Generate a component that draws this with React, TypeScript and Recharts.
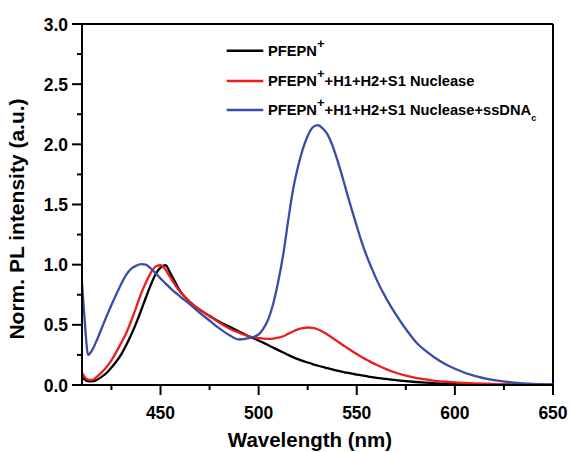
import React from 'react';
import { LineChart, Line, XAxis, YAxis, ReferenceLine, Legend } from 'recharts';

const FONT = '"Liberation Sans", Arial, Helvetica, sans-serif';

// Wavelength (nm)
const W = [
  410, 411, 412, 413, 415, 417.5, 420, 422.5, 425, 427.5, 430, 432.5, 435, 437.5, 440, 442.5, 445, 447.5,
  450, 452.5, 455, 460, 465, 470, 475, 480, 485, 490, 495, 500, 502.5, 505, 507.5, 510, 512.5, 515, 517.5,
  520, 522.5, 525, 527.5, 530, 532.5, 535, 537.5, 540, 542.5, 545, 547.5, 550, 552.5, 555, 557.5, 560, 565,
  570, 575, 580, 585, 590, 595, 600, 610, 620, 630, 640, 650,
];

// PFEPN+
const PFEPN = [
  0.065, 0.05, 0.038, 0.032, 0.03, 0.042, 0.068, 0.1, 0.145, 0.195, 0.255, 0.33, 0.415, 0.51, 0.615, 0.725, 0.83, 0.92,
  0.975, 0.995, 0.93, 0.78, 0.69, 0.625, 0.575, 0.525, 0.485, 0.445, 0.405, 0.37, 0.35, 0.33, 0.31, 0.29, 0.27, 0.25, 0.232,
  0.215, 0.2, 0.187, 0.174, 0.162, 0.15, 0.14, 0.13, 0.12, 0.111, 0.102, 0.094, 0.087, 0.08, 0.073, 0.066, 0.06, 0.05,
  0.04, 0.032, 0.025, 0.019, 0.014, 0.011, 0.008, 0.005, 0.003, 0.002, 0.001, 0,
];

// PFEPN+ + H1 + H2 + S1 Nuclease
const NUCLEASE = [
  0.1, 0.075, 0.055, 0.045, 0.042, 0.068, 0.105, 0.15, 0.205, 0.275, 0.35, 0.43, 0.53, 0.64, 0.755, 0.85, 0.93, 0.985,
  0.995, 0.96, 0.895, 0.775, 0.69, 0.625, 0.572, 0.518, 0.47, 0.435, 0.405, 0.39, 0.385, 0.384, 0.386, 0.393, 0.405, 0.425, 0.445,
  0.462, 0.473, 0.478, 0.474, 0.463, 0.445, 0.42, 0.393, 0.365, 0.337, 0.31, 0.283, 0.257, 0.232, 0.21, 0.188, 0.168, 0.132,
  0.102, 0.078, 0.06, 0.046, 0.035, 0.027, 0.021, 0.013, 0.008, 0.005, 0.003, 0.001,
];

// PFEPN+ + H1 + H2 + S1 Nuclease + ssDNAc
const SSDNA = [
  0.85, 0.62, 0.4, 0.25, 0.285, 0.37, 0.47, 0.57, 0.665, 0.755, 0.84, 0.915, 0.965, 0.99, 1.005, 1.0, 0.97, 0.93,
  0.885, 0.845, 0.805, 0.735, 0.67, 0.6, 0.535, 0.47, 0.415, 0.378, 0.39, 0.42, 0.47, 0.55, 0.68, 0.86, 1.08, 1.36, 1.62,
  1.81, 1.96, 2.07, 2.14, 2.16, 2.135, 2.085, 1.995, 1.875, 1.74, 1.595, 1.455, 1.32, 1.19, 1.075, 0.975, 0.88, 0.72,
  0.585, 0.465, 0.36, 0.285, 0.225, 0.175, 0.135, 0.075, 0.04, 0.02, 0.009, 0.004,
];

const X_TICKS = [425, 450, 475, 500, 525, 550, 575, 600, 625, 650];
const X_LABELS = [450, 500, 550, 600, 650];
const Y_TICKS = [0, 0.25, 0.5, 0.75, 1, 1.25, 1.5, 1.75, 2, 2.25, 2.5, 2.75, 3];
const Y_LABELS = [0, 0.5, 1, 1.5, 2, 2.5, 3];

const COLORS = { pfepn: '#000000', nuc: '#ee1d1d', dna: '#3b4ca6' };

const data = W.map((wl, i) => ({ wl, pfepn: PFEPN[i], nuc: NUCLEASE[i], dna: SSDNA[i] }));

const XTick = (props: any) => {
  const { x, y, payload } = props;
  const v = payload.value;
  const major = X_LABELS.includes(v);
  return (
    <g>
      <line x1={x} x2={x} y1={y} y2={y + (major ? 10 : 5)} stroke="#000" strokeWidth={2} />
      {major && (
        <text x={x} y={y + 34} textAnchor="middle" fontFamily={FONT} fontWeight="bold" fontSize={17.5} fill="#000">
          {v}
        </text>
      )}
    </g>
  );
};

const YTick = (props: any) => {
  const { x, y, payload } = props;
  const v = payload.value;
  const major = Y_LABELS.some((l) => Math.abs(l - v) < 1e-9);
  return (
    <g>
      <line x1={x - (major ? 10 : 5)} x2={x} y1={y} y2={y} stroke="#000" strokeWidth={2} />
      {major && (
        <text x={x - 14} y={y + 6.5} textAnchor="end" fontFamily={FONT} fontWeight="bold" fontSize={17.5} fill="#000">
          {v.toFixed(1)}
        </text>
      )}
    </g>
  );
};

const txt = { fontFamily: FONT, fontWeight: 'bold' as const, fontSize: 14.7, fill: '#000' };

const LegendContent = () => {
  const rows = [
    { color: COLORS.pfepn, y: 14.7, rest: '', sub: '' },
    { color: COLORS.nuc, y: 45, rest: '+H1+H2+S1 Nuclease', sub: '' },
    { color: COLORS.dna, y: 74, rest: '+H1+H2+S1 Nuclease+ssDNA', sub: 'c' },
  ];
  return (
    <svg width={340} height={92} style={{ overflow: 'visible', display: 'block' }}>
      {rows.map((r, i) => (
        <g key={i}>
          <line x1={6.7} x2={43.3} y1={r.y} y2={r.y} stroke={r.color} strokeWidth={2.5} />
          <text x={48} y={r.y + 5} {...txt}>
            PFEPN
            <tspan dy={-8} fontSize={13}>+</tspan>
            {r.rest && <tspan dy={8}>{r.rest}</tspan>}
            {r.sub && <tspan dy={6} fontSize={9}>{r.sub}</tspan>}
          </text>
        </g>
      ))}
    </svg>
  );
};

export default function App() {
  return (
    <div style={{ position: 'absolute', left: 0, top: 0, width: 570, height: 452, background: '#fff' }}>
      <LineChart width={570} height={452} data={data} margin={{ top: 24, right: 17, bottom: 0, left: 0 }}>
        <XAxis
          type="number"
          dataKey="wl"
          domain={[410, 650]}
          allowDataOverflow
          ticks={X_TICKS}
          interval={0}
          tick={<XTick />}
          tickLine={false}
          tickSize={0}
          tickMargin={0}
          height={67}
          axisLine={{ stroke: '#000', strokeWidth: 2 }}
          label={() => (
            <text x={310} y={447} textAnchor="middle" fontFamily={FONT} fontWeight="bold" fontSize={20.5} fill="#000">
              Wavelength (nm)
            </text>
          )}
        />
        <YAxis
          type="number"
          domain={[0, 3]}
          allowDataOverflow
          ticks={Y_TICKS}
          interval={0}
          tick={<YTick />}
          tickLine={false}
          tickSize={0}
          tickMargin={0}
          width={82}
          axisLine={{ stroke: '#000', strokeWidth: 2 }}
          label={() => (
            <text
              x={24}
              y={219}
              transform="rotate(-90 24 219)"
              textAnchor="middle"
              fontFamily={FONT}
              fontWeight="bold"
              fontSize={21}
              fill="#000"
            >
              Norm. PL intensity (a.u.)
            </text>
          )}
        />
        <ReferenceLine y={3} stroke="#000" strokeWidth={2} />
        <ReferenceLine x={650} stroke="#000" strokeWidth={2} />
        <Line type="monotone" dataKey="pfepn" stroke={COLORS.pfepn} strokeWidth={2.3} dot={false} isAnimationActive={false} />
        <Line type="monotone" dataKey="nuc" stroke={COLORS.nuc} strokeWidth={2.3} dot={false} isAnimationActive={false} />
        <Line type="monotone" dataKey="dna" stroke={COLORS.dna} strokeWidth={2.3} dot={false} isAnimationActive={false} />
        <Legend
          layout="vertical"
          align="center"
          verticalAlign="middle"
          wrapperStyle={{ left: 220, top: 36, width: 340, height: 92 }}
          content={() => <LegendContent />}
        />
      </LineChart>
    </div>
  );
}
